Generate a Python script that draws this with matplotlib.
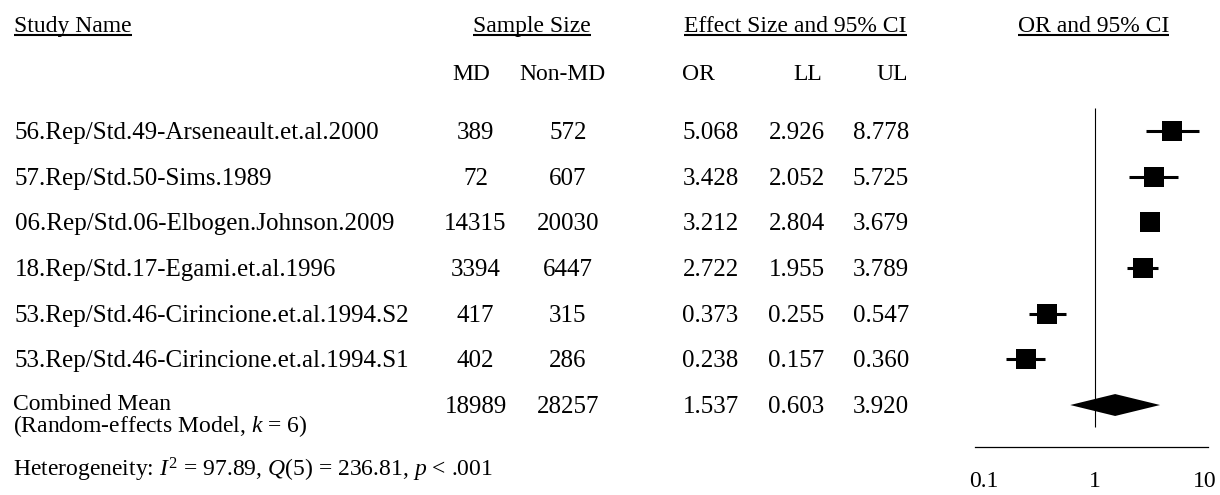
import matplotlib
matplotlib.use("Agg")
import matplotlib.pyplot as plt
import numpy as np

plt.rcParams["font.family"] = ["Liberation Serif", "DejaVu Serif"]
plt.rcParams["mathtext.fontset"] = "custom"
plt.rcParams["mathtext.rm"] = "Liberation Serif"
plt.rcParams["mathtext.it"] = "Liberation Serif:italic"

# ---- data ----
studies = [
    "56.Rep/Std.49-Arseneault.et.al.2000",
    "57.Rep/Std.50-Sims.1989",
    "06.Rep/Std.06-Elbogen.Johnson.2009",
    "18.Rep/Std.17-Egami.et.al.1996",
    "53.Rep/Std.46-Cirincione.et.al.1994.S2",
    "53.Rep/Std.46-Cirincione.et.al.1994.S1",
]
n_md = [389, 72, 14315, 3394, 417, 402]
n_nonmd = [572, 607, 20030, 6447, 315, 286]
odds_ratio = [5.068, 3.428, 3.212, 2.722, 0.373, 0.238]
lower = [2.926, 2.052, 2.804, 1.955, 0.255, 0.157]
upper = [8.778, 5.725, 3.679, 3.789, 0.547, 0.360]

pooled_label = "Combined Mean\n(Random-effects Model, $k$ = 6)"
pooled_md = 18989
pooled_nonmd = 28257
pooled_or = 1.537
pooled_ll = 0.603
pooled_ul = 3.920

heterogeneity = "Heterogeneity: $I^2$ = 97.89, $Q$(5) = 236.81, $p$ < .001"
axis_ticks = [0.1, 1, 10]
axis_ticklabels = ["0.1", "1", "10"]

# ---- layout ----
W, H = 1220, 495
FS = 17        # headers, pooled label, footnote
FS_ROW = 18    # study rows
ROW0, ROWSTEP = 131, 45.67

fig = plt.figure(figsize=(W / 100, H / 100), dpi=100)

# Text layer in pixel coordinates
tx = fig.add_axes([0, 0, 1, 1])
tx.set_xlim(0, W)
tx.set_ylim(H, 0)
tx.axis("off")


def row_px(i):
    return ROW0 + i * ROWSTEP


def put(x, y, s, ha="left", size=FS, va="baseline", **kw):
    return tx.text(x, y, s, ha=ha, va=va, fontsize=size, color="black", **kw)


# Column headers (underlined)
headers = [
    (14, "Study Name", "left"),
    (532, "Sample Size", "center"),
    (795.5, "Effect Size and 95% CI", "center"),
    (1093.5, "OR and 95% CI", "center"),
]
header_texts = [put(x, 32, s, ha=ha) for x, s, ha in headers]

# Sub headers
put(471, 80, "MD", ha="center")
put(562.5, 80, "Non-MD", ha="center")
put(682, 80, "OR", ha="left")
put(822, 80, "LL", ha="right")
put(908, 80, "UL", ha="right")

# Study rows
col_md, col_nonmd = 475.5, 568
col_or, col_ll, col_ul = 710.5, 796.5, 881
for i, name in enumerate(studies):
    yb = row_px(i) + 8
    put(15, yb, name, size=FS_ROW)
    put(col_md, yb, f"{n_md[i]}", ha="center", size=FS_ROW)
    put(col_nonmd, yb, f"{n_nonmd[i]}", ha="center", size=FS_ROW)
    put(col_or, yb, f"{odds_ratio[i]:.3f}", ha="center", size=FS_ROW)
    put(col_ll, yb, f"{lower[i]:.3f}", ha="center", size=FS_ROW)
    put(col_ul, yb, f"{upper[i]:.3f}", ha="center", size=FS_ROW)

# Pooled row
k = len(studies)
yb = row_px(k) + 8
put(13, 394, pooled_label, va="top", linespacing=0.88)
put(col_md, yb, f"{pooled_md}", ha="center", size=FS_ROW)
put(col_nonmd, yb, f"{pooled_nonmd}", ha="center", size=FS_ROW)
put(col_or, yb, f"{pooled_or:.3f}", ha="center", size=FS_ROW)
put(col_ll, yb, f"{pooled_ll:.3f}", ha="center", size=FS_ROW)
put(col_ul, yb, f"{pooled_ul:.3f}", ha="center", size=FS_ROW)

put(13, 477, heterogeneity)

# Forest plot panel
ax_left, ax_right, ax_bottom, ax_top = 975, 1208, 447, 100
ax = fig.add_axes([ax_left / W, (H - ax_bottom) / H,
                   (ax_right - ax_left) / W, (ax_bottom - ax_top) / H])
ax.set_xscale("log")
px_per_decade = 110.5
one_px = 1094.5
ax.set_xlim(10 ** (-(one_px - ax_left) / px_per_decade),
            10 ** ((ax_right - one_px) / px_per_decade))
ax.set_ylim((ax_bottom - ROW0) / ROWSTEP, (ax_top - ROW0) / ROWSTEP)
ax.patch.set_alpha(0)

for s in ["top", "left", "right"]:
    ax.spines[s].set_visible(False)
ax.spines["bottom"].set_linewidth(0.9)

# null line at OR = 1
ax.plot([1, 1], [(108 - ROW0) / ROWSTEP, (427 - ROW0) / ROWSTEP],
        color="black", lw=0.8, solid_capstyle="butt")

rows = np.arange(len(studies))
ax.hlines(rows, lower, upper, color="black", lw=2.2)
ax.plot(odds_ratio, rows, "s", color="black", markersize=14.4,
        markeredgewidth=0)

# pooled diamond
half_h = 0.24
ax.fill([pooled_ll, pooled_or, pooled_ul, pooled_or],
        [k, k - half_h, k, k + half_h], color="black", lw=0)

ax.set_yticks([])
ax.set_xticks(axis_ticks)
ax.set_xticklabels(axis_ticklabels, fontsize=FS)
ax.xaxis.set_minor_locator(matplotlib.ticker.NullLocator())
ax.tick_params(axis="x", length=0, pad=17)

# Underlines under the header texts
fig.canvas.draw()
renderer = fig.canvas.get_renderer()
inv = tx.transData.inverted()
for t in header_texts:
    bb = t.get_window_extent(renderer)
    (x0, _), (x1, _) = inv.transform([[bb.x0, bb.y0], [bb.x1, bb.y1]])
    tx.plot([x0, x1], [35, 35], color="black", lw=1.5, solid_capstyle="butt")

fig.savefig("out.png", dpi=100)
